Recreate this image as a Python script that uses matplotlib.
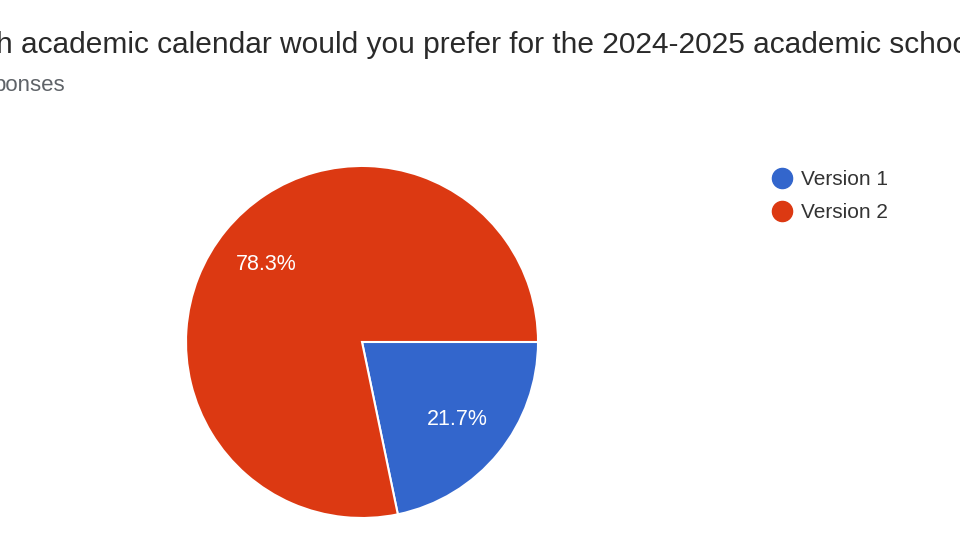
import matplotlib
matplotlib.use("Agg")
import matplotlib.pyplot as plt
from matplotlib.lines import Line2D

plt.rcParams['font.family'] = ['Liberation Sans', 'DejaVu Sans']

# survey results (23 responses)
labels = ['Version 1', 'Version 2']
counts = [5, 18]
colors = ['#3366cc', '#dc3912']
title = 'h academic calendar would you prefer for the 2024-2025 academic school year?'
subtitle = 'ponses'

fig = plt.figure(figsize=(9.6, 5.4), dpi=100)
fig.patch.set_facecolor('white')

fig.text(-0.004, 0.917, title, fontsize=21.5, color='#2a2a2a', ha='left', va='center')
fig.text(-0.007, 0.842, subtitle, fontsize=16, color='#5f6368', ha='left', va='center')

ax = fig.add_axes([0.19375, 0.0407, 0.3667, 0.652])
wedges, texts, autotexts = ax.pie(
    counts, colors=colors, startangle=0, counterclock=False,
    autopct='%1.1f%%', pctdistance=0.7,
    wedgeprops=dict(edgecolor='white', linewidth=1.5),
    textprops=dict(color='white', fontsize=15.5))
ax.set_xlim(-1, 1)
ax.set_ylim(-1, 1)
ax.set_aspect('equal')

handles = [Line2D([], [], marker='o', linestyle='none', markersize=14.5,
                  markerfacecolor=c, markeredgecolor=c) for c in colors]
fig.legend(handles, labels, loc='upper left', bbox_to_anchor=(0.7955, 0.701),
           frameon=False, fontsize=15, handlelength=1.0, handletextpad=0.4,
           labelspacing=0.69, labelcolor='#333333', borderaxespad=0)

fig.savefig('out.png', dpi=100, facecolor='white')
